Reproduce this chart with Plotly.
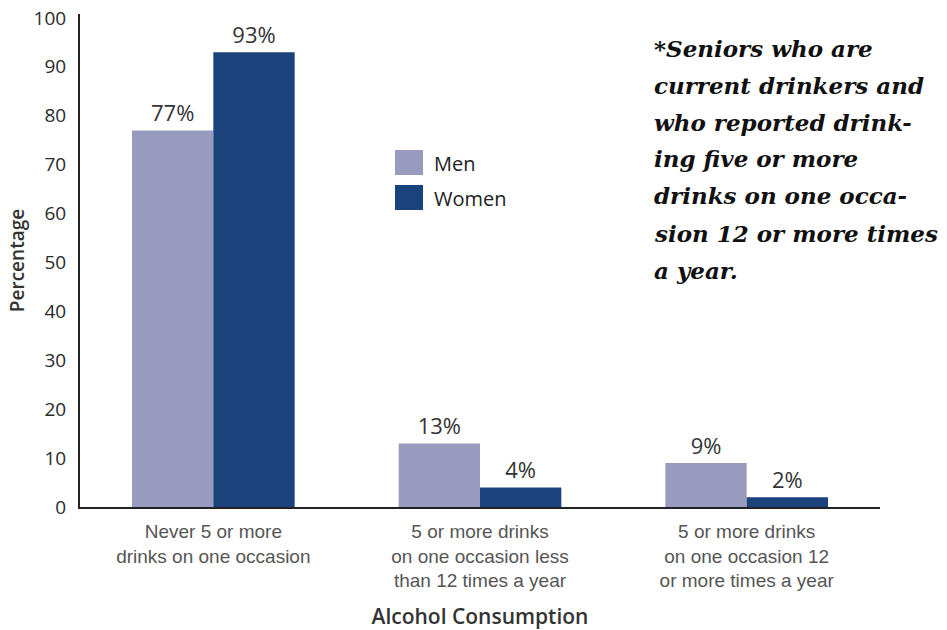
import plotly.graph_objects as go

categories = ["Never 5 or more<br>drinks on one occasion",
              "5 or more drinks<br>on one occasion less<br>than 12 times a year",
              "5 or more drinks<br>on one occasion 12<br>or more times a year"]
men = [77, 13, 9]
women = [93, 4, 2]
series_names = ["Men", "Women"]
y_ticks = [0, 10, 20, 30, 40, 50, 60, 70, 80, 90, 100]
note_lines = ["*Seniors who are", "current drinkers and", "who reported drink-",
              "ing five or more", "drinks on one occa-", "sion 12 or more times", "a year."]

MEN_COLOR = "#989bbd"
WOMEN_COLOR = "#1b437b"
TXT = "#333333"

# page geometry (body margin removed below, so figure pixels == page pixels)
W, H = 947, 630
L, T = 80, 14
PLOT_RIGHT, PLOT_BOTTOM = 880, 507
R, B = W - PLOT_RIGHT, H - PLOT_BOTTOM
PW, PH = W - L - R, H - T - B
def px(x):
    return (x - L) / PW
def py(y):
    return (H - B - y) / PH

fig = go.Figure()
colors = [MEN_COLOR, WOMEN_COLOR]
for name, vals, col in zip(series_names, [men, women], colors):
    fig.add_trace(go.Bar(
        name=name, x=categories, y=vals, marker=dict(color=col, line=dict(width=0)),
        text=[f"{v}%" for v in vals], textposition="outside", cliponaxis=False,
        textfont=dict(family="Open Sans", size=22, color=TXT),
        showlegend=False,
    ))

fig.update_layout(
    width=W, height=H,
    margin=dict(l=L, r=R, t=T, b=B, autoexpand=False),
    paper_bgcolor="white", plot_bgcolor="white",
    barmode="group", bargap=0.39, bargroupgap=0,
    font=dict(family="Open Sans", color=TXT),
    xaxis=dict(showline=True, linecolor="#222", linewidth=2, showgrid=False, automargin=False,
               ticks="", ticklabelstandoff=6,
               tickfont=dict(family="Liberation Sans", size=19, color="#555"),
               title=dict(text="Alcohol Consumption",
                          font=dict(family="Open Sans", size=21, color="#333", weight=600), standoff=24)),
    yaxis=dict(range=[0, 100.8], showline=True, linecolor="#222", linewidth=2, showgrid=False,
               automargin=False, zeroline=False, tickvals=y_ticks, ticks="", ticklabelstandoff=8,
               ticklabeloverflow="allow",
               tickfont=dict(family="Open Sans", size=19, color="#2a2a2a"),
               title=dict(text="Percentage",
                          font=dict(family="Open Sans", size=19, color="#333", weight=600), standoff=4)),
)

# legend drawn as swatches + labels
sw_x0, sw_x1 = 395, 423
for i, (name, col) in enumerate(zip(series_names, colors)):
    y0 = 150 + 35 * i
    fig.add_shape(type="rect", xref="paper", yref="paper",
                  x0=px(sw_x0), x1=px(sw_x1), y0=py(y0 + 25), y1=py(y0),
                  fillcolor=col, line=dict(width=0))
    fig.add_annotation(xref="paper", yref="paper", x=px(432), y=py(y0 + 13),
                       xanchor="left", yanchor="middle", showarrow=False, text=name,
                       font=dict(family="Open Sans", size=20, color="#222"))

# side note, one annotation per line
for i, line in enumerate(note_lines):
    fig.add_annotation(
        xref="paper", yref="paper", x=px(652), y=py(48 + 37 * i),
        xanchor="left", yanchor="middle", showarrow=False, align="left",
        text=f"<b><i>{line}</i></b>",
        font=dict(family="DejaVu Serif", size=23, color="#111"),
    )

fig.write_html("out.html", config={"displayModeBar": False},
               post_script="document.body.style.margin='0';document.body.style.overflow='hidden';")
